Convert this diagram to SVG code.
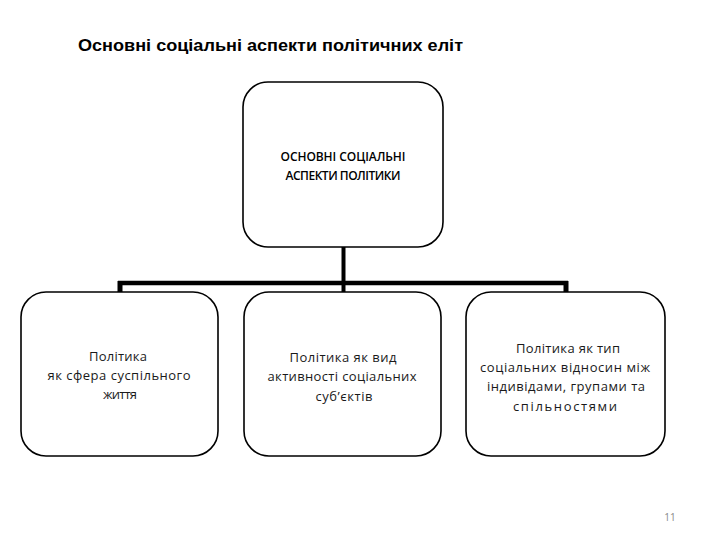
<svg xmlns="http://www.w3.org/2000/svg" width="720" height="540" viewBox="0 0 720 540">
<style>
.box{fill:#fff;stroke:#000;stroke-width:1.6}
.conn{stroke:#000;fill:none;stroke-linecap:butt}
.t{font-family:"Open Sans","Liberation Sans",sans-serif;font-size:13px;fill:#1a1a1a;text-anchor:middle}
.h{font-family:"Open Sans","Liberation Sans",sans-serif;font-size:12px;font-weight:600;fill:#000;text-anchor:middle}
.title{font-family:"Liberation Sans",Arial,sans-serif;font-size:17px;font-weight:bold;fill:#000}
</style>
<rect width="720" height="540" fill="#fff"/>
<text class="title" x="78" y="51" textLength="385" lengthAdjust="spacingAndGlyphs">Основні соціальні аспекти політичних еліт</text>
<g id="connectors">
<path class="conn" stroke-width="4" d="M343.5 247 V292"/>
<path class="conn" stroke-width="4.5" d="M118 283 H568"/>
<path class="conn" stroke-width="5" d="M120 281 V292 M566 281 V292"/>
</g>
<g id="n0">
<rect class="box" x="243" y="82" width="200" height="165" rx="25" ry="25"/>
<text class="h" x="343" y="161" textLength="125">ОСНОВНІ СОЦІАЛЬНІ</text>
<text class="h" x="343" y="180" textLength="115">АСПЕКТИ ПОЛІТИКИ</text>
</g>
<g id="n1">
<rect class="box" x="21" y="292" width="197" height="164" rx="25" ry="25"/>
<text class="t" x="118" y="361" textLength="58">Політика</text>
<text class="t" x="119" y="380" textLength="143">як сфера суспільного</text>
<text class="t" x="120" y="399" textLength="34">життя</text>
</g>
<g id="n2">
<rect class="box" x="244" y="292" width="197" height="164" rx="25" ry="25"/>
<text class="t" x="343" y="362" textLength="107">Політика як вид</text>
<text class="t" x="342" y="381" textLength="149">активності соціальних</text>
<text class="t" x="344" y="401" textLength="57">суб’єктів</text>
</g>
<g id="n3">
<rect class="box" x="466" y="292" width="199" height="164" rx="25" ry="25"/>
<text class="t" x="568" y="353" textLength="104">Політика як тип</text>
<text class="t" x="565" y="372" textLength="170">соціальних відносин між</text>
<text class="t" x="566" y="391" textLength="158">індивідами, групами та</text>
<text class="t" x="565" y="411" textLength="104">спільностями</text>
</g>
<text x="670" y="521" font-family="Open Sans, Liberation Sans, sans-serif" font-size="10" fill="#888" text-anchor="middle">11</text>
</svg>
